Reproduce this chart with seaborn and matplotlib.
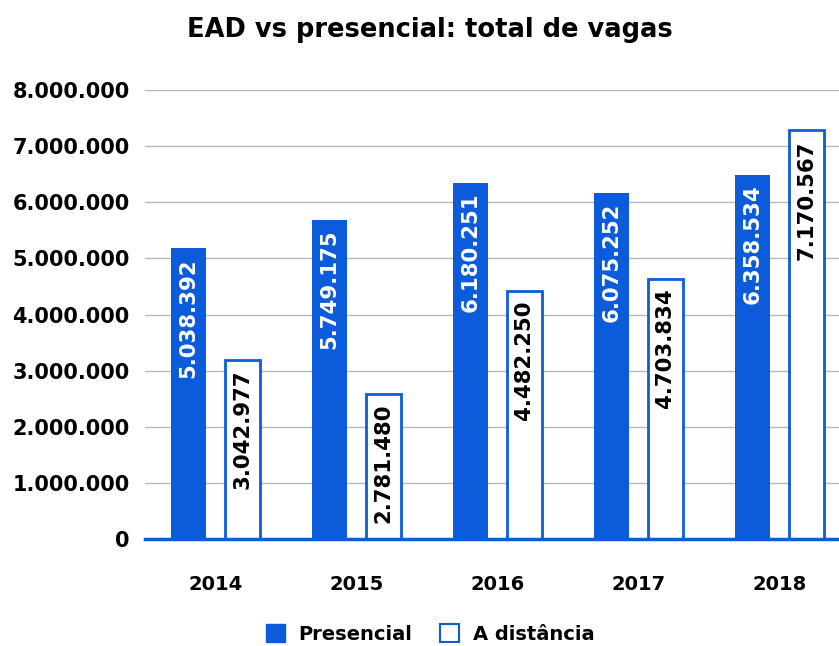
import pandas as pd
import matplotlib
matplotlib.use('Agg')
import matplotlib.pyplot as plt
import seaborn as sns
from matplotlib.patches import Patch
from matplotlib.ticker import FuncFormatter

# dados
anos = ['2014', '2015', '2016', '2017', '2018']
series = ['Presencial', 'A distância']
# altura das barras como aparecem no gráfico
presencial_altura = [5180000, 5690000, 6350000, 6170000, 6490000]
distancia_altura = [3190000, 2590000, 4420000, 4640000, 7280000]
# rótulos impressos nas barras
presencial_rotulo = [5038392, 5749175, 6180251, 6075252, 6358534]
distancia_rotulo = [3042977, 2781480, 4482250, 4703834, 7170567]

azul = '#0B5BDB'

df = pd.DataFrame({
    'Ano': anos * 2,
    'Tipo': [series[0]] * len(anos) + [series[1]] * len(anos),
    'Vagas': presencial_altura + distancia_altura,
})

def br(v, pos=None):
    return f"{int(v):,}".replace(',', '.')

sns.set_theme(style='white')
plt.rcParams['font.family'] = ['DejaVu Sans']
plt.rcParams['font.weight'] = 'bold'

fig = plt.figure(figsize=(8.39, 6.46), dpi=100)
ax = fig.add_axes([145 / 839, 1 - 539.3 / 646, 705 / 839, (539.3 - 90) / 646])

sns.barplot(data=df, x='Ano', y='Vagas', hue='Tipo', hue_order=series,
            palette={series[0]: azul, series[1]: 'white'}, saturation=1,
            width=0.76, gap=0.34, legend=False, ax=ax)

for barra in ax.containers[0]:
    barra.set_edgecolor(azul)
    barra.set_linewidth(0)
for barra in ax.containers[1]:
    barra.set_edgecolor(azul)
    barra.set_linewidth(2)

for cont, rotulos, cor in [(ax.containers[0], presencial_rotulo, 'white'),
                           (ax.containers[1], distancia_rotulo, 'black')]:
    for barra, r in zip(cont, rotulos):
        ax.annotate(br(r), (barra.get_x() + barra.get_width() / 2, barra.get_height()),
                    xytext=(0, -7), textcoords='offset points',
                    rotation=90, ha='center', va='top', color=cor,
                    fontsize=15.3, fontweight='bold')

ax.set_ylim(0, 8000000)
ax.set_yticks(range(0, 8000001, 1000000))
ax.yaxis.set_major_formatter(FuncFormatter(br))
ax.grid(axis='y', color='#b8b8b8', linewidth=1)
ax.set_axisbelow(True)
ax.set_xlabel('')
ax.set_ylabel('')
for s in ['top', 'right', 'left']:
    ax.spines[s].set_visible(False)
ax.spines['bottom'].set_color(azul)
ax.spines['bottom'].set_linewidth(2.5)
ax.tick_params(axis='y', length=0, pad=11, labelsize=15, labelcolor='black')
ax.tick_params(axis='x', length=0, pad=26, labelsize=14, labelcolor='black')
for t in ax.get_xticklabels() + ax.get_yticklabels():
    t.set_fontweight('bold')

fig.text(430 / 839, 1 - 30 / 646, 'EAD vs presencial: total de vagas',
         ha='center', va='center', fontsize=18.5, fontweight='bold', color='black')

handles = [Patch(facecolor=azul, edgecolor=azul, label=series[0]),
           Patch(facecolor='white', edgecolor=azul, linewidth=1.5, label=series[1])]
fig.legend(handles=handles, loc='center', bbox_to_anchor=(430 / 839, 1 - 634 / 646),
           ncol=2, frameon=False, handlelength=1.0, handleheight=1.0,
           columnspacing=1.4, handletextpad=0.7, labelcolor='black',
           prop={'weight': 'bold', 'size': 14})

fig.savefig('out.png', dpi=100)
